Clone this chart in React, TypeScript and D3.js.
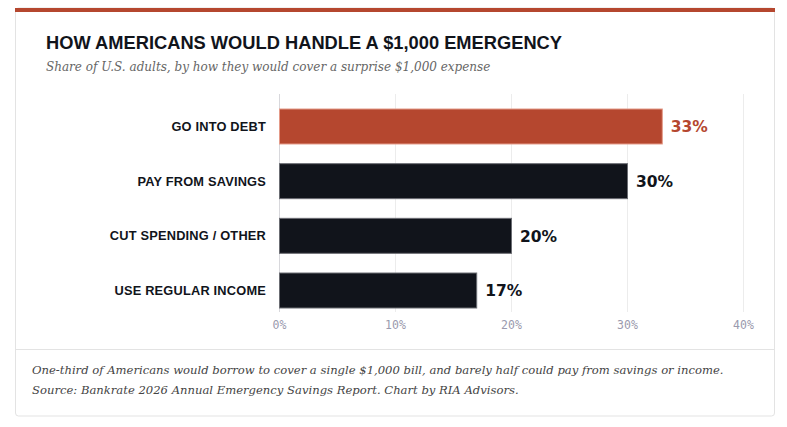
import React, { useEffect, useRef } from 'react';
import * as d3 from 'd3';

const categories = ['GO INTO DEBT', 'PAY FROM SAVINGS', 'CUT SPENDING / OTHER', 'USE REGULAR INCOME'];
const shares = [33, 30, 20, 17];
const highlight = ['GO INTO DEBT'];
const xTicks = [0, 10, 20, 30, 40];

const title = 'HOW AMERICANS WOULD HANDLE A $1,000 EMERGENCY';
const subtitle = 'Share of U.S. adults, by how they would cover a surprise $1,000 expense';
const notes = [
  'One-third of Americans would borrow to cover a single $1,000 bill, and barely half could pay from savings or income.',
  'Source: Bankrate 2026 Annual Emergency Savings Report. Chart by RIA Advisors.',
];

const RED = '#b5472f';
const INK = '#11141b';
const SANS = '"Liberation Sans", Arial, sans-serif';
const SERIF = '"DejaVu Serif", Georgia, serif';

const App: React.FC = () => {
  const svgRef = useRef<SVGSVGElement | null>(null);

  useEffect(() => {
    if (!svgRef.current) return;
    const W = 787;
    const H = 427;
    const svg = d3.select(svgRef.current);
    svg.selectAll('*').remove();
    svg.attr('width', W).attr('height', H);

    // card
    const card = { x: 15.5, y: 8, w: 759, h: 408 };
    svg.append('rect')
      .attr('x', card.x).attr('y', card.y)
      .attr('width', card.w).attr('height', card.h)
      .attr('rx', 3)
      .attr('fill', '#fff')
      .attr('stroke', '#e3e3e3');
    svg.append('rect')
      .attr('x', card.x - 0.5).attr('y', card.y)
      .attr('width', card.w + 1).attr('height', 4)
      .attr('fill', RED);

    svg.append('text')
      .attr('x', 46).attr('y', 49)
      .attr('font-family', SANS).attr('font-weight', 700)
      .attr('font-size', 18.3).attr('fill', INK)
      .text(title);
    svg.append('text')
      .attr('x', 46).attr('y', 71)
      .attr('font-family', SERIF).attr('font-style', 'italic')
      .attr('font-size', 12).attr('fill', '#666')
      .text(subtitle);

    const margin = { top: 94, left: 279 };
    const width = 464;
    const height = 218;

    const x = d3.scaleLinear().domain([0, 40]).range([0, width]);
    const y = d3.scaleBand<string>().domain(categories).range([15, 214]).paddingInner(0.36).paddingOuter(0);

    const g = svg.append('g').attr('transform', `translate(${margin.left},${margin.top})`);

    // gridlines
    g.selectAll('line.grid')
      .data(xTicks)
      .enter()
      .append('line')
      .attr('x1', (d) => Math.round(x(d)) + 0.5)
      .attr('x2', (d) => Math.round(x(d)) + 0.5)
      .attr('y1', 0)
      .attr('y2', height)
      .attr('stroke', (d) => (d === 0 ? '#d8d8dc' : '#ececec'))
      .attr('stroke-width', 1);

    // x axis labels
    const xAxis = g.append('g')
      .attr('transform', `translate(0,${height})`)
      .call(d3.axisBottom(x).tickValues(xTicks).tickSize(0).tickPadding(9).tickFormat((d) => `${d}%`));
    xAxis.select('.domain').remove();
    xAxis.selectAll('text')
      .attr('font-family', '"DejaVu Sans Mono", monospace')
      .attr('font-size', 11.5)
      .attr('fill', '#9a9aae');

    // bars
    g.selectAll('rect.bar')
      .data(categories)
      .enter()
      .append('rect')
      .attr('x', x(0) + 0.5)
      .attr('y', (d) => y(d)!)
      .attr('width', (d, i) => x(shares[i]) - x(0))
      .attr('height', y.bandwidth())
      .attr('fill', (d) => (highlight.includes(d) ? RED : INK))
      .attr('stroke', (d) => (highlight.includes(d) ? '#e49a88' : '#6b6d73'))
      .attr('stroke-width', 1);

    // category labels
    g.selectAll('text.cat')
      .data(categories)
      .enter()
      .append('text')
      .attr('x', -13)
      .attr('y', (d) => y(d)! + y.bandwidth() / 2)
      .attr('dy', '0.35em')
      .attr('text-anchor', 'end')
      .attr('font-family', SANS)
      .attr('font-weight', 700)
      .attr('font-size', 12.8)
      .attr('letter-spacing', 0.2)
      .attr('fill', INK)
      .text((d) => d);

    // value labels
    g.selectAll('text.val')
      .data(categories)
      .enter()
      .append('text')
      .attr('x', (d, i) => x(shares[i]) + 9)
      .attr('y', (d) => y(d)! + y.bandwidth() / 2)
      .attr('dy', '0.38em')
      .attr('font-family', '"DejaVu Sans", sans-serif')
      .attr('font-weight', 700)
      .attr('font-size', 15.5)
      .attr('fill', (d) => (highlight.includes(d) ? RED : INK))
      .text((d, i) => `${shares[i]}%`);

    // footer
    svg.append('line')
      .attr('x1', card.x).attr('x2', card.x + card.w)
      .attr('y1', 349.5).attr('y2', 349.5)
      .attr('stroke', '#e3e3e3');
    svg.selectAll('text.note')
      .data(notes)
      .enter()
      .append('text')
      .attr('x', 32)
      .attr('y', (d, i) => 374 + i * 20)
      .attr('font-family', SERIF)
      .attr('font-style', 'italic')
      .attr('font-size', 11.6)
      .attr('fill', '#444')
      .text((d) => d);
  }, []);

  return <svg ref={svgRef} style={{ position: 'absolute', left: 0, top: 0, background: '#fff' }} />;
};

export default App;
